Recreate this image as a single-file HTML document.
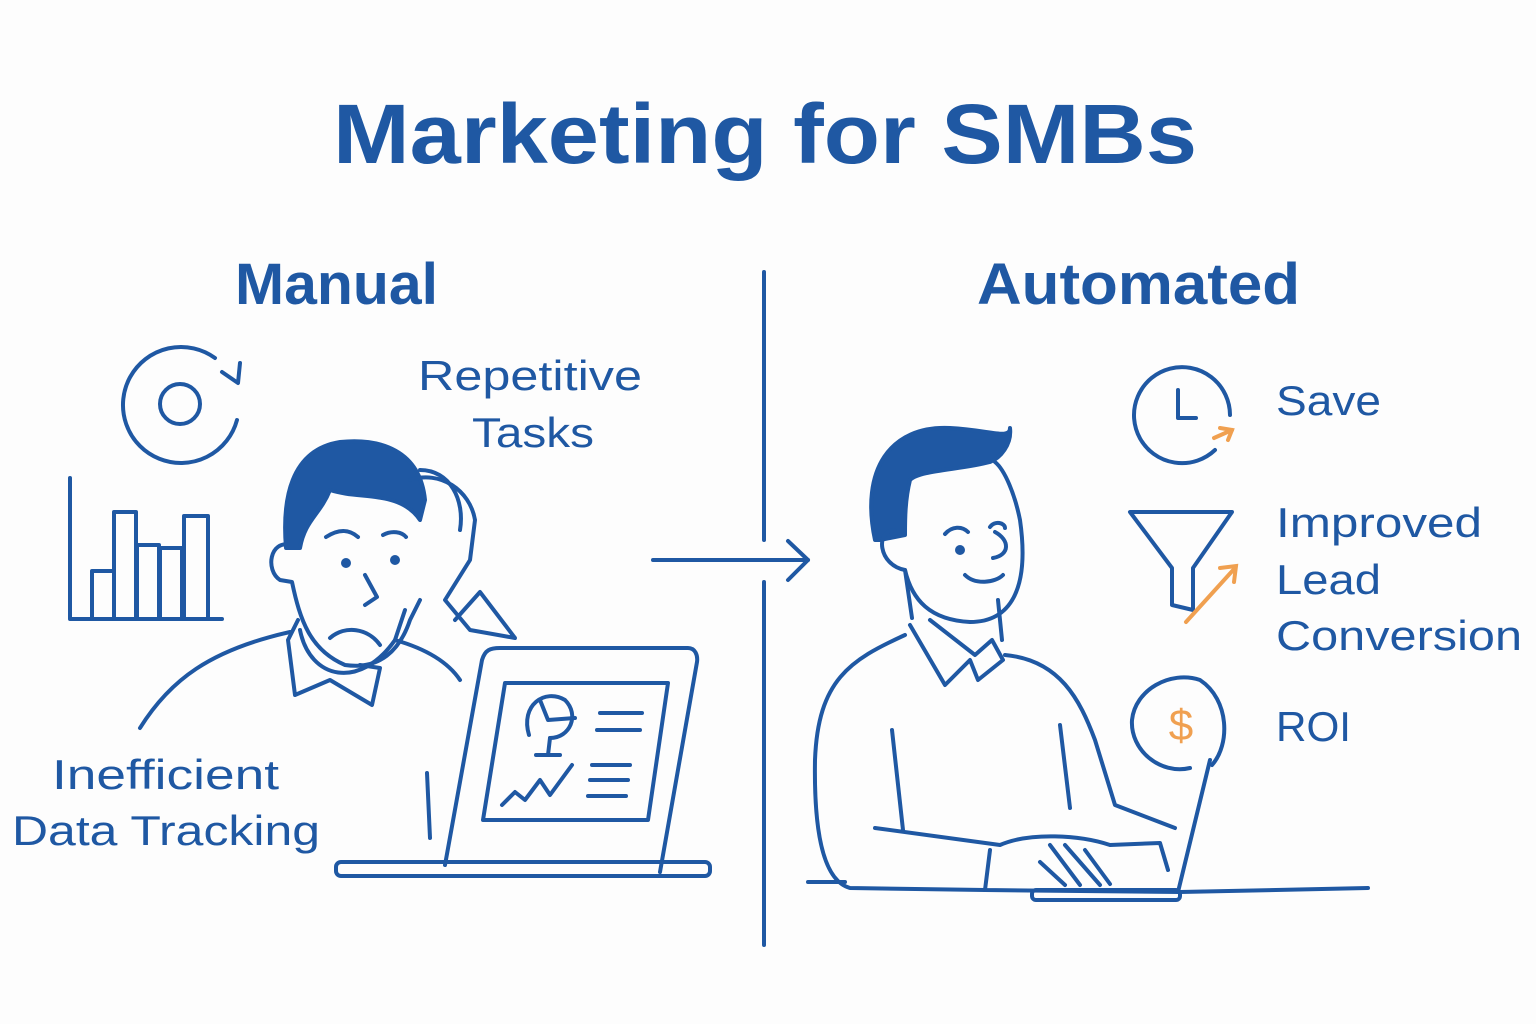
<!DOCTYPE html>
<html><head><meta charset="utf-8"><style>
html,body{margin:0;padding:0;background:#fdfdfd;}
svg{display:block}
text{font-family:"Liberation Sans","DejaVu Sans",sans-serif;fill:#1f58a3}
</style></head><body>
<svg width="1536" height="1024" viewBox="0 0 1536 1024" xmlns="http://www.w3.org/2000/svg">
<rect width="1536" height="1024" fill="#fdfdfd"/>
<g stroke="#1f58a3" stroke-width="4" fill="none" stroke-linecap="round" stroke-linejoin="round">
<line x1="764" y1="272" x2="764" y2="540"/>
<line x1="764" y1="582" x2="764" y2="945"/>
<line x1="653" y1="560" x2="808" y2="560"/>
<polyline points="788,541 808,560 788,580"/>
<path d="M237,420 A58,58 0 1 1 215,358"/>
<polyline points="222,372 238,383 240,363"/>
<circle cx="180" cy="404" r="20"/>
<polyline points="70,478 70,619 222,619"/>
<rect x="92" y="571" width="22" height="48"/>
<rect x="114" y="512" width="22" height="107"/>
<rect x="137" y="545" width="22" height="74"/>
<rect x="160" y="548" width="22" height="71"/>
<rect x="184" y="516" width="24" height="103"/>
<path d="M140,728 C170,680 210,650 290,632"/>
<path d="M298,620 L288,640 L295,695 L330,680 L372,705 L380,668 L360,665"/>
<path d="M300,630 C310,680 360,690 395,640 L405,610"/>
<path d="M395,640 C430,650 450,665 460,680"/>
<path d="M290,545 C270,540 265,570 280,580 L292,582 C300,620 310,650 345,665 C380,670 400,650 410,620 L420,600"/>
<path fill="#1f58a3" d="M286,548 C282,500 290,450 340,442 C380,438 420,450 425,500 L420,520 C400,490 360,500 330,490 C320,515 305,520 300,548 Z"/>
<path d="M410,480 C440,470 470,490 475,520 L470,560 L445,600 L470,630 L515,638 L480,592 L455,620"/>
<path d="M420,470 C450,470 465,500 460,530"/>
<path d="M326,537 C340,528 350,530 358,537"/>
<path d="M383,535 C392,530 402,532 406,537"/>
<circle cx="346" cy="563" r="3" fill="#1f58a3"/>
<circle cx="395" cy="560" r="3" fill="#1f58a3"/>
<path d="M365,575 L377,597 L365,605"/>
<path d="M330,638 C345,625 368,628 380,645"/>
<path d="M427,773 L430,838"/>
<path d="M445,865 L482,660 C485,650 490,648 500,648 L688,648 C695,648 698,655 697,662 L660,872"/>
<rect x="336" y="862" width="374" height="14" rx="5"/>
<path d="M505,683 L668,683 L648,820 L483,820 Z"/>
<path d="M529,735 C520,705 545,688 565,700 C580,715 570,738 550,738" />
<path d="M540,700 L548,720 L575,718"/>
<line x1="550" y1="738" x2="548" y2="755"/>
<line x1="536" y1="755" x2="560" y2="755"/>
<line x1="600" y1="713" x2="642" y2="713"/>
<line x1="597" y1="730" x2="640" y2="730"/>
<line x1="592" y1="765" x2="630" y2="765"/>
<line x1="590" y1="780" x2="628" y2="780"/>
<line x1="588" y1="796" x2="626" y2="796"/>
<polyline points="502,805 515,792 525,800 540,780 550,795 572,765"/>
<path fill="#1f58a3" d="M875,540 C860,470 890,425 950,428 C990,430 1010,440 1010,428 C1012,445 1000,458 990,462 C960,470 920,470 910,480 C905,500 905,520 905,535 L880,540 Z"/>
<path d="M895,530 C875,530 878,565 905,570 C912,600 930,620 970,622 C1010,622 1030,590 1020,520 C1015,495 1005,470 995,462"/>
<path d="M905,570 L912,618"/>
<path d="M998,600 L1002,640"/>
<path d="M945,534 C952,526 962,526 968,532"/>
<path d="M990,527 C995,520 1005,523 1005,528"/>
<circle cx="960" cy="550" r="3" fill="#1f58a3"/>
<path d="M995,532 C1010,540 1010,555 993,558"/>
<path d="M965,575 C975,585 995,583 1003,575"/>
<path d="M910,625 L945,685 L970,660 L978,680 L1003,660 L992,640 L975,655 L930,620"/>
<path d="M905,635 C850,660 818,680 815,760 C814,820 820,880 850,888 L985,890"/>
<path d="M1005,655 C1060,660 1080,700 1095,740 L1115,805 L1175,828"/>
<line x1="892" y1="730" x2="903" y2="830"/>
<line x1="1060" y1="725" x2="1070" y2="808"/>
<path d="M875,828 L1000,845 C1030,832 1080,835 1110,845 L1160,843 L1168,870"/>
<path d="M990,850 L985,890 L1180,892"/>
<path d="M1050,845 L1080,885 M1065,845 L1100,885 M1085,850 L1110,884 M1040,862 L1065,885"/>
<line x1="808" y1="882" x2="845" y2="882"/>
<path d="M1178,892 L1210,760"/>
<rect x="1032" y="890" width="148" height="10" rx="4"/>
<line x1="1180" y1="892" x2="1368" y2="888"/>
<path d="M1230,415 A48,48 0 1 0 1215,450"/>
<polyline points="1178,390 1178,418 1196,418"/>
<path d="M1130,512 L1232,512 L1193,568 L1193,610 L1172,605 L1172,568 Z"/>
<path d="M1212,765 C1230,745 1230,700 1200,680 C1170,670 1135,690 1132,720 C1130,750 1160,775 1190,768"/>
</g>
<g stroke="#f0a050" stroke-width="4" fill="none" stroke-linecap="round">
<path d="M1214,438 L1232,430"/>
<polyline points="1220,428 1232,430 1228,440"/>
<line x1="1186" y1="622" x2="1235" y2="568"/>
<polyline points="1220,568 1236,566 1234,582"/>
</g>
<text x="1181" y="740" font-size="44" text-anchor="middle" style="fill:#f0a050">$</text>
<text x="333" y="163" font-size="84" font-weight="bold" textLength="864" lengthAdjust="spacingAndGlyphs">Marketing for SMBs</text>
<text x="235" y="304" font-size="58" font-weight="bold" textLength="203" lengthAdjust="spacingAndGlyphs">Manual</text>
<text x="977" y="304" font-size="58" font-weight="bold" textLength="323" lengthAdjust="spacingAndGlyphs">Automated</text>
<text x="418" y="390" font-size="42" textLength="224" lengthAdjust="spacingAndGlyphs">Repetitive</text>
<text x="472" y="447" font-size="42" textLength="122" lengthAdjust="spacingAndGlyphs">Tasks</text>
<text x="52" y="789" font-size="42" textLength="227" lengthAdjust="spacingAndGlyphs">Inefficient</text>
<text x="12" y="845" font-size="42" textLength="308" lengthAdjust="spacingAndGlyphs">Data Tracking</text>
<text x="1276" y="415" font-size="42" textLength="105" lengthAdjust="spacingAndGlyphs">Save</text>
<text x="1276" y="537" font-size="42" textLength="206" lengthAdjust="spacingAndGlyphs">Improved</text>
<text x="1276" y="594" font-size="42" textLength="105" lengthAdjust="spacingAndGlyphs">Lead</text>
<text x="1276" y="650" font-size="42" textLength="246" lengthAdjust="spacingAndGlyphs">Conversion</text>
<text x="1276" y="741" font-size="42" textLength="75" lengthAdjust="spacingAndGlyphs">ROI</text>
</svg>
</body></html>
